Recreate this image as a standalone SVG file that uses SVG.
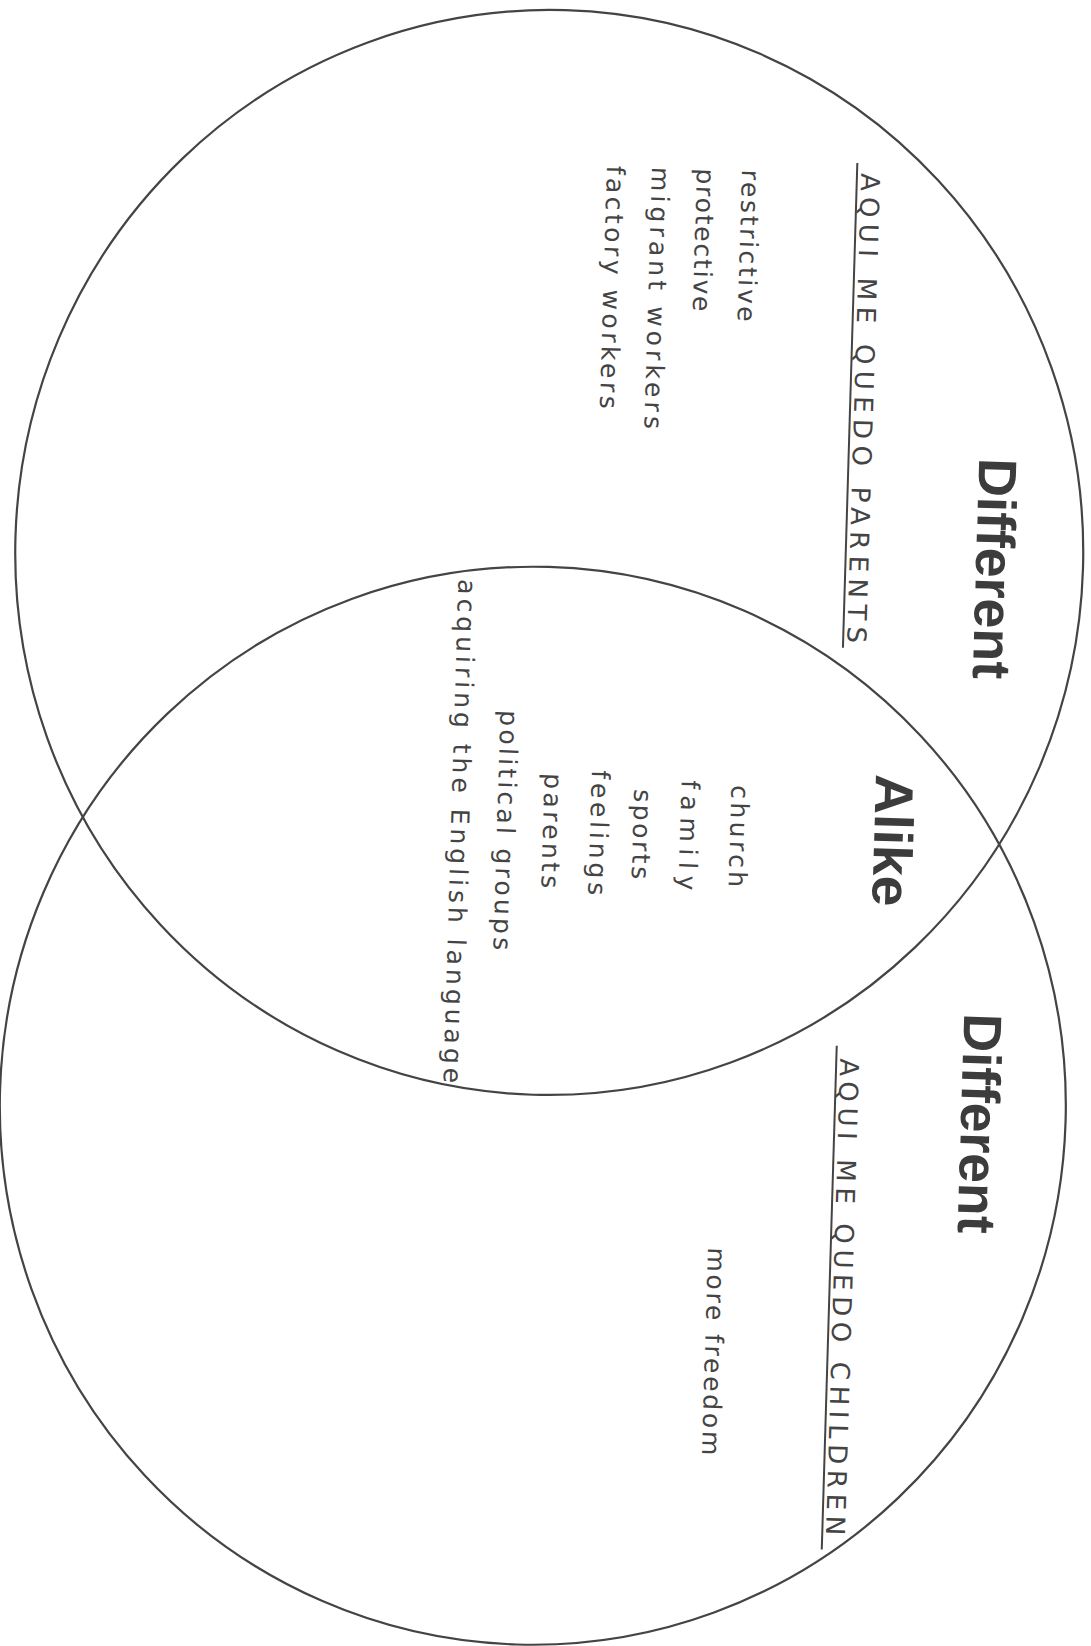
<svg xmlns="http://www.w3.org/2000/svg" width="1091" height="1646" viewBox="0 0 1091 1646">
<style>
.ring{fill:none;stroke:#444;stroke-width:2.2}
.title{font-family:"Liberation Sans",Arial,sans-serif;font-weight:bold;font-size:54px;fill:#3c3c3c}
.hand{font-family:"DejaVu Sans","Liberation Sans",sans-serif;font-weight:normal;font-size:25px;fill:#444}
.sub{font-family:"DejaVu Sans","Liberation Sans",sans-serif;font-weight:normal;font-size:26px;fill:#444}
.rule{stroke:#444;stroke-width:2;fill:none}
</style>
<rect width="1091" height="1646" fill="#fff"/>
<g id="page" transform="rotate(1.7 546 830)">
  <g id="parents">
    <ellipse class="ring" cx="541" cy="552.5" rx="534" ry="542.5"/>
    <text class="title" transform="translate(968,445) rotate(90)" textLength="221" lengthAdjust="spacingAndGlyphs">Different</text>
    <text class="sub" transform="translate(841.5,164) rotate(90)" textLength="470">AQUI ME QUEDO PARENTS</text>
    <line class="rule" x1="837.4" y1="154" x2="837.4" y2="639"/>
    <text class="hand" transform="translate(722.4,164) rotate(90)" textLength="152">restrictive</text>
    <text class="hand" transform="translate(677.3,164) rotate(90)" textLength="143">protective</text>
    <text class="hand" transform="translate(632.3,164) rotate(90)" textLength="262">migrant workers</text>
    <text class="hand" transform="translate(587.3,164) rotate(90)" textLength="243">factory workers</text>
  </g>
  <g id="children">
    <ellipse class="ring" cx="541" cy="1106" rx="533" ry="539"/>
    <text class="title" transform="translate(969.4,1000.6) rotate(90)" textLength="220" lengthAdjust="spacingAndGlyphs">Different</text>
    <text class="sub" transform="translate(846.8,1049.3) rotate(90)" textLength="477">AQUI ME QUEDO CHILDREN</text>
    <line class="rule" x1="843" y1="1037" x2="843" y2="1541"/>
    <text class="hand" transform="translate(720.4,1242.2) rotate(90)" textLength="208">more freedom</text>
  </g>
  <g id="alike">
    <text class="title" transform="translate(874.3,764.2) rotate(90)" textLength="132" lengthAdjust="spacingAndGlyphs">Alike</text>
    <text class="hand" text-anchor="middle" transform="translate(730.2,830.5) rotate(90)" textLength="102">church</text>
    <text class="hand" text-anchor="middle" transform="translate(680.1,831) rotate(90)" textLength="110">family</text>
    <text class="hand" text-anchor="middle" transform="translate(633.1,831.4) rotate(90)" textLength="90">sports</text>
    <text class="hand" text-anchor="middle" transform="translate(590.1,831.2) rotate(90)" textLength="125">feelings</text>
    <text class="hand" text-anchor="middle" transform="translate(543,830.6) rotate(90)" textLength="115">parents</text>
    <text class="hand" text-anchor="middle" transform="translate(497,831.5) rotate(90)" textLength="240">political groups</text>
    <text class="hand" text-anchor="middle" transform="translate(451,833.8) rotate(90)" textLength="504">acquiring the English language</text>
  </g>
</g>
</svg>
